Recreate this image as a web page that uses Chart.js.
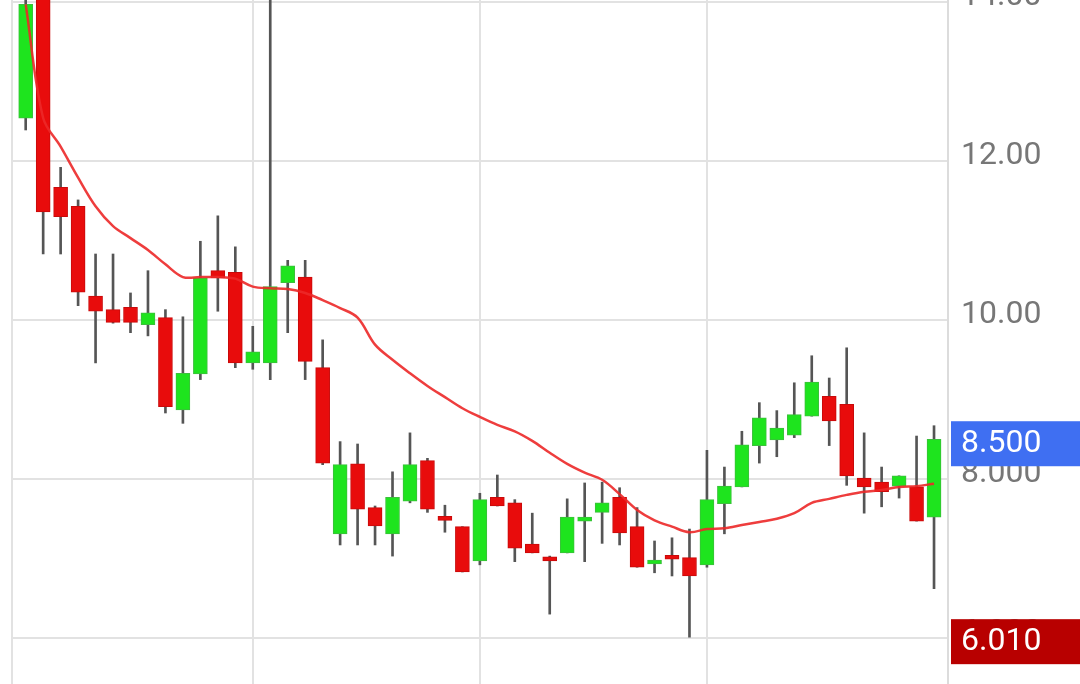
<!DOCTYPE html>
<html>
<head>
<meta charset="utf-8">
<script src="https://cdn.jsdelivr.net/npm/chart.js@4"></script>
<style>
  html, body { margin: 0; padding: 0; background: #fff; }
  canvas { display: block; }
</style>
</head>
<body>
<canvas id="chart" width="1080" height="684"></canvas>
<script>
const open = [12.54, 14.6, 11.67, 11.43, 10.30, 10.13, 10.16, 9.94, 10.03, 8.87,
  9.32, 10.62, 10.60, 9.46, 9.46, 10.47, 10.54, 9.40, 7.31, 8.19,
  7.64, 7.31, 7.72, 8.23, 7.53, 7.40, 6.97, 7.77, 7.70, 7.18,
  7.02, 7.07, 7.47, 7.58, 7.77, 7.40, 6.93, 7.04, 7.01, 6.92,
  7.69, 7.90, 8.42, 8.49, 8.55, 8.79, 9.04, 8.94, 8.01, 7.96,
  7.91, 7.90, 7.52];
const high = [14.1, 14.8, 11.92, 11.51, 10.83, 10.83, 10.34, 10.62, 10.13, 10.04,
  10.99, 11.31, 10.92, 9.92, 14.2, 10.75, 10.75, 9.75, 8.47, 8.44,
  7.66, 8.09, 8.58, 8.26, 7.67, 7.40, 7.82, 8.05, 7.74, 7.57,
  7.03, 7.75, 7.95, 7.96, 7.89, 7.64, 7.22, 7.26, 7.37, 8.36,
  8.15, 8.60, 8.96, 8.86, 9.21, 9.55, 9.27, 9.65, 8.58, 8.15,
  8.04, 8.54, 8.67];
const low = [12.39, 10.83, 10.83, 10.18, 9.46, 9.96, 9.84, 9.80, 8.83, 8.70,
  9.25, 10.11, 9.40, 9.38, 9.25, 9.84, 9.25, 8.18, 7.17, 7.17,
  7.17, 7.03, 7.70, 7.58, 7.33, 6.83, 6.92, 7.66, 6.96, 7.07,
  6.30, 7.07, 6.96, 7.19, 7.17, 6.89, 6.82, 6.78, 6.01, 6.89,
  7.31, 7.90, 8.20, 8.28, 8.52, 8.79, 8.42, 7.92, 7.57, 7.65,
  7.76, 7.47, 6.62];
const close = [13.97, 11.36, 11.30, 10.35, 10.11, 9.97, 9.97, 10.09, 8.91, 9.33,
  10.53, 10.53, 9.46, 9.60, 10.42, 10.68, 9.48, 8.20, 8.18, 7.62,
  7.41, 7.77, 8.18, 7.62, 7.48, 6.83, 7.74, 7.66, 7.13, 7.07,
  6.97, 7.52, 7.52, 7.70, 7.32, 6.89, 6.98, 6.99, 6.78, 7.74,
  7.91, 8.43, 8.77, 8.64, 8.81, 9.22, 8.73, 8.04, 7.90, 7.84,
  8.04, 7.47, 8.50];
const ma = [13.97, 12.54, 12.18, 11.79, 11.43, 11.18, 11.03, 10.88, 10.70, 10.54,
  10.54, 10.54, 10.52, 10.42, 10.40, 10.39, 10.34, 10.25, 10.15, 10.03,
  9.69, 9.50, 9.33, 9.17, 9.03, 8.89, 8.78, 8.68, 8.60, 8.48,
  8.33, 8.19, 8.08, 7.99, 7.81, 7.61, 7.48, 7.40, 7.33, 7.37,
  7.38, 7.42, 7.46, 7.50, 7.57, 7.70, 7.75, 7.80, 7.84, 7.86,
  7.90, 7.91, 7.94];
const yTicks = [6, 8, 10, 12, 14];
const xGrid = [13, 26, 39];
const lastPrice = 8.5;
const minPrice = 6.01;

const GREEN = "#1ee41e";
const GREEN_EDGE = "#3cbf3c";
const RED = "#e80c0c";
const RED_EDGE = "#c80a0a";
const FONT = { family: "Roboto", size: 32 };

const isUp = i => close[i] >= open[i];

const priceTags = {
	id: "priceTags",
	afterDraw(chart) {
		const { ctx, scales: { y }, chartArea } = chart;
		const tags = [
			{ value: lastPrice, bg: "#3f6ff2" },
			{ value: minPrice, bg: "#b80000" },
		];
		ctx.save();
		ctx.font = FONT.size + "px " + FONT.family;
		ctx.textBaseline = "middle";
		tags.forEach(t => {
			const cy = y.getPixelForValue(t.value) + 4;
			ctx.fillStyle = t.bg;
			ctx.fillRect(chartArea.right + 3, cy - 22, 200, 45);
			ctx.fillStyle = "#fff";
			ctx.fillText(t.value.toFixed(3), chartArea.right + 13, cy + 1);
		});
		ctx.restore();
	},
};

new Chart(document.getElementById("chart"), {
	data: {
		datasets: [
			{
				type: "line",
				data: ma.map((v, i) => ({ x: i, y: v })),
				borderColor: "rgba(236, 40, 40, 0.9)",
				borderWidth: 2.5,
				pointRadius: 0,
				tension: 0.35,
				order: 0,
			},
			{
				type: "bar",
				data: open.map((o, i) => ({ x: i, y: [o, close[i]] })),
				backgroundColor: ctx => (isUp(ctx.dataIndex) ? GREEN : RED),
				borderColor: ctx => (isUp(ctx.dataIndex) ? GREEN_EDGE : RED_EDGE),
				borderWidth: 1,
				borderSkipped: false,
				barThickness: 14,
				minBarLength: 4,
				grouped: false,
				order: 1,
			},
			{
				type: "bar",
				data: low.map((l, i) => ({ x: i, y: [l, high[i]] })),
				backgroundColor: "#555",
				barThickness: 2,
				grouped: false,
				order: 2,
			},
		],
	},
	options: {
		responsive: false,
		animation: false,
		layout: { padding: { left: 12, top: 0, right: 0, bottom: 0 } },
		plugins: { legend: { display: false }, tooltip: { enabled: false } },
		scales: {
			x: {
				type: "linear",
				offset: false,
				min: -0.784,
				max: 52.8,
				afterBuildTicks: axis => {
					axis.ticks = [axis.min, ...xGrid].map(v => ({ value: v }));
				},
				afterFit: axis => {
					axis.height = 0;
					axis.paddingLeft = 0;
					axis.paddingRight = 0;
				},
				ticks: { display: false },
				grid: { color: "#e2e2e2", lineWidth: 2, drawTicks: false, offset: false },
				border: { display: false },
			},
			y: {
				position: "right",
				min: 5.421,
				max: 14.025,
				afterBuildTicks: axis => {
					axis.ticks = yTicks.map(v => ({ value: v }));
				},
				afterFit: axis => {
					axis.width = 132;
					axis.paddingTop = 0;
					axis.paddingBottom = 0;
				},
				ticks: {
					font: FONT,
					color: "#777",
					padding: 13,
					labelOffset: -5,
					callback: v => Number(v).toPrecision(4),
				},
				grid: { color: "#e2e2e2", lineWidth: 2, drawTicks: false },
				border: { display: true, color: "#dcdcdc", width: 2 },
			},
		},
	},
	plugins: [priceTags],
});
</script>
</body>
</html>
